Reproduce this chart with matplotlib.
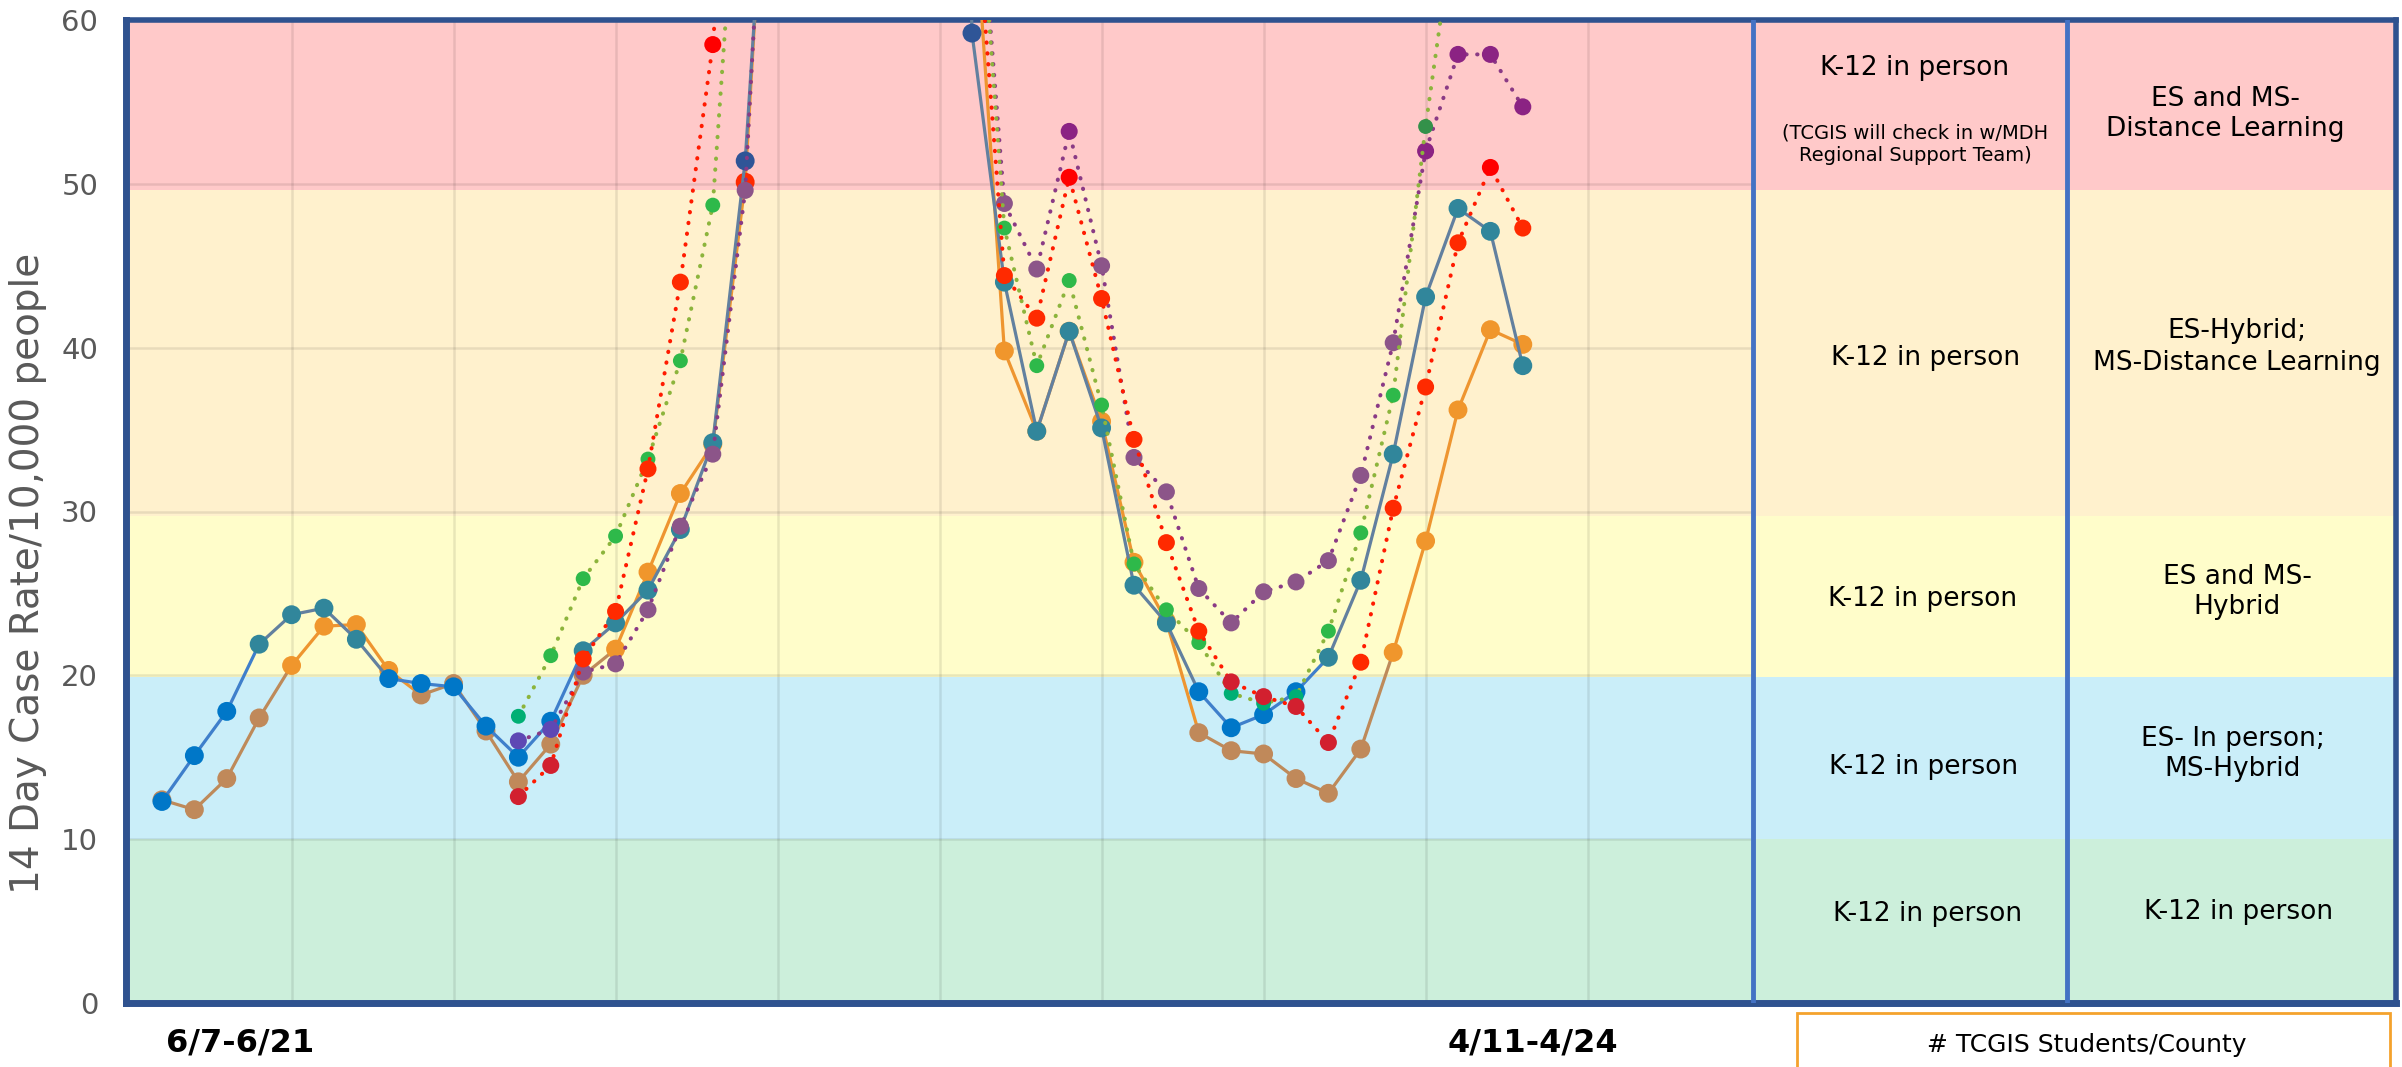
import numpy as np
import matplotlib.pyplot as plt
from matplotlib.patches import Rectangle

nan = np.nan

# Indice de semana (posicion en el eje de categorias)
semanas = list(range(43))

# Condados con linea continua
condado_a = [12.3, 15.1, 17.8, 21.9, 23.7, 24.1, 22.2, 19.8, 19.5, 19.3,
             16.9, 15.0, 17.2, 21.5, 23.2, 25.2, 28.9, 34.2, 51.4, 82.0,
             nan, nan, nan, nan, 150.0, 59.2, 44.0, 34.9, 41.0, 35.1,
             25.5, 23.2, 19.0, 16.8, 17.6, 19.0, 21.1, 25.8, 33.5, 43.1,
             48.5, 47.1, 38.9]
condado_b = [12.4, 11.8, 13.7, 17.4, 20.6, 23.0, 23.1, 20.3, 18.8, 19.5,
             16.6, 13.5, 15.8, 20.0, 21.6, 26.3, 31.1, 34.1, 50.1, 84.0,
             nan, nan, nan, nan, nan, 69.0, 39.8, 34.9, 41.0, 35.5,
             26.9, 23.3, 16.5, 15.4, 15.2, 13.7, 12.8, 15.5, 21.4, 28.2,
             36.2, 41.1, 40.2]

# Condados con linea punteada
condado_verde = [nan] * 11 + [17.5, 21.2, 25.9, 28.5, 33.2, 39.2, 48.7, 77.0,
                              nan, nan, nan, nan, nan, nan, 74.0, 47.3, 38.9, 44.1, 36.5,
                              26.8, 24.0, 22.0, 18.9, 18.3, 18.7, 22.7, 28.7, 37.1, 53.5,
                              67.6, nan, nan]
condado_rojo = [nan] * 11 + [12.6, 14.5, 21.0, 23.9, 32.6, 44.0, 58.5, 82.5,
                             nan, nan, nan, nan, nan, nan, 70.3, 44.4, 41.8, 50.4, 43.0,
                             34.4, 28.1, 22.7, 19.6, 18.7, 18.1, 15.9, 20.8, 30.2, 37.6,
                             46.4, 51.0, 47.3]
condado_morado = [nan] * 11 + [16.0, 16.7, 20.2, 20.7, 24.0, 29.1, 33.5, 49.6,
                               86.7, nan, nan, nan, nan, nan, 73.7, 48.8, 44.8, 53.2, 45.0,
                               33.3, 31.2, 25.3, 23.2, 25.1, 25.7, 27.0, 32.2, 40.3, 52.0,
                               57.9, 57.9, 54.7]

# Umbrales de las franjas de color
umbrales = [0, 10, 19.9, 29.7, 49.6, 60]

etiquetas_x = ['6/7-6/21', '4/11-4/24']

tabla_col1 = ['K-12 in person', '(TCGIS will check in w/MDH\nRegional Support Team)',
              'K-12 in person', 'K-12 in person', 'K-12 in person', 'K-12 in person']
tabla_col2 = ['ES and MS-\nDistance Learning', 'ES-Hybrid;\nMS-Distance Learning',
              'ES and MS-\nHybrid', 'ES- In person;\nMS-Hybrid', 'K-12 in person']
titulo_caja = '# TCGIS Students/County'

# Colores de los puntos (estilo)
tipo_a = 'b' * 3 + 't' * 4 + 'b' * 6 + 't' * 5 + 'd' * 8 + 't' * 6 + 'b' * 4 + 't' * 7
tipo_b = 'n' * 4 + 'o' * 4 + 'n' * 6 + 'o' * 4 + 'r' + 'o' * 13 + 'n' * 6 + 'o' * 5
tipo_v = 'g' * 11 + 'j' + 'g' * 21 + 'j' * 3 + 'g' * 3 + 'k' + 'g' * 3
tipo_r = 'r' * 11 + 'c' * 2 + 'r' * 4 + 'R' + 'r' * 10 + 'R' + 'r' * 4 + 'c' * 4 + 'r' * 4 + 'R' + 'r'
tipo_m = 'm' * 11 + 'v' * 2 + 'm' * 15 + 'p' + 'm' * 10 + 'p' * 4
paleta = {'b': '#0077C8', 't': '#31869B', 'd': '#2F5597',
          'n': '#C0895A', 'o': '#F0962C', 'r': '#FF2A00', 'R': '#FF0000',
          'c': '#D2202F', 'g': '#2EB94A', 'j': '#00AF74', 'k': '#33914A',
          'm': '#8C5589', 'v': '#5E48B4', 'p': '#8B2383'}

fig = plt.figure(figsize=(24.02, 10.67), dpi=100)
ax = fig.add_axes([126 / 2402, 1 - 1003 / 1067, 2270 / 2402, 983 / 1067])
ax.set_xlim(-1.11, 68.95)
ax.set_ylim(0, 60)

# Franjas de fondo
colores_franja = ['#CCEFDB', '#CAEEF9', '#FFFDCA', '#FFF1CD', '#FFC9C9']
for k in range(len(colores_franja)):
    ax.axhspan(umbrales[k], umbrales[k + 1], color=colores_franja[k], lw=0, zorder=0)

# Cuadricula solo en la zona del grafico
ax.hlines(range(10, 60, 10), -1.11, 49.1, color='black', alpha=0.09, lw=1.8, zorder=1)
ax.vlines(range(4, 45, 5), 0, 60, color='black', alpha=0.09, lw=1.8, zorder=1)


def linea_continua(valores, tipos, color_azul, color_otro, azul, z):
    for k in range(len(valores) - 1):
        if np.isnan(valores[k]) or np.isnan(valores[k + 1]):
            continue
        c = color_azul if tipos[k] in azul else color_otro
        ax.plot([semanas[k], semanas[k + 1]], [valores[k], valores[k + 1]],
                color=c, lw=2.3, zorder=z, solid_capstyle='round')
    ax.scatter(semanas, valores, s=185, c=[paleta[t] for t in tipos],
               edgecolors='none', zorder=z + 0.5)


linea_continua(condado_b, tipo_b, '#BE8A5A', '#EE9530', 'n', 3)
linea_continua(condado_a, tipo_a, '#3F7FCB', '#62809F', 'b', 4)

punteadas = [(condado_morado, tipo_m, '#8A3A85', 150, 5),
             (condado_verde, tipo_v, '#8CB43C', 115, 6),
             (condado_rojo, tipo_r, '#FF1A00', 150, 7)]
for valores, tipos, color, tam, z in punteadas:
    ax.plot(semanas, valores, color=color, lw=2.9, ls=(0, (0.1, 2.6)),
            dash_capstyle='round', zorder=z)
    ax.scatter(semanas, valores, s=tam, c=[paleta[t] for t in tipos],
               edgecolors='none', zorder=z + 0.5)

# Bordes
for lado in ['left', 'top', 'bottom', 'right']:
    ax.spines[lado].set_color('#2F528F')
ax.spines['left'].set_linewidth(5)
ax.spines['bottom'].set_linewidth(5)
ax.spines['top'].set_linewidth(4)
ax.spines['right'].set_linewidth(4)
ax.axvline(49.1, color='#4472C4', lw=3.5, zorder=8)
ax.axvline(58.8, color='#4472C4', lw=3.5, zorder=8)

ax.set_yticks(range(0, 61, 10))
ax.tick_params(axis='y', length=0, pad=20, labelsize=21, labelcolor='#595959')
ax.set_xticks([])

fig.text(28 / 2402, 1 - 573 / 1067, '14 Day Case Rate/10,000 people', rotation=90,
         ha='center', va='center', fontsize=28, color='#595959')

# Etiquetas de fechas
for pos, txt in zip([2.4, 42.3], etiquetas_x):
    ax.text(pos, -0.041, txt, transform=ax.get_xaxis_transform(), ha='center',
            va='center', fontsize=23, fontweight='bold')

# Texto de la tabla
pos_col1 = [(1915, 68, 19), (1915, 144, 14), (1926, 358, 19),
            (1923, 599, 19), (1924, 767, 19), (1928, 914, 19)]
for (x, y, fs), txt in zip(pos_col1, tabla_col1):
    fig.text(x / 2402, 1 - y / 1067, txt, ha='center', va='center', fontsize=fs,
             linespacing=1.2)
pos_col2 = [(2225, 114), (2237, 347), (2237, 592), (2233, 754), (2239, 912)]
for (x, y), txt in zip(pos_col2, tabla_col2):
    fig.text(x / 2402, 1 - y / 1067, txt, ha='center', va='center', fontsize=19,
             linespacing=1.25)

fig.patches.append(Rectangle((1797 / 2402, -0.02), 593 / 2402, (1067 - 1013) / 1067 + 0.02,
                             transform=fig.transFigure, facecolor='white',
                             edgecolor='#F4A22D', lw=2))
fig.text(2087 / 2402, 1 - 1045 / 1067, titulo_caja, ha='center', va='center', fontsize=18)

fig.savefig('out.png', dpi=100)
